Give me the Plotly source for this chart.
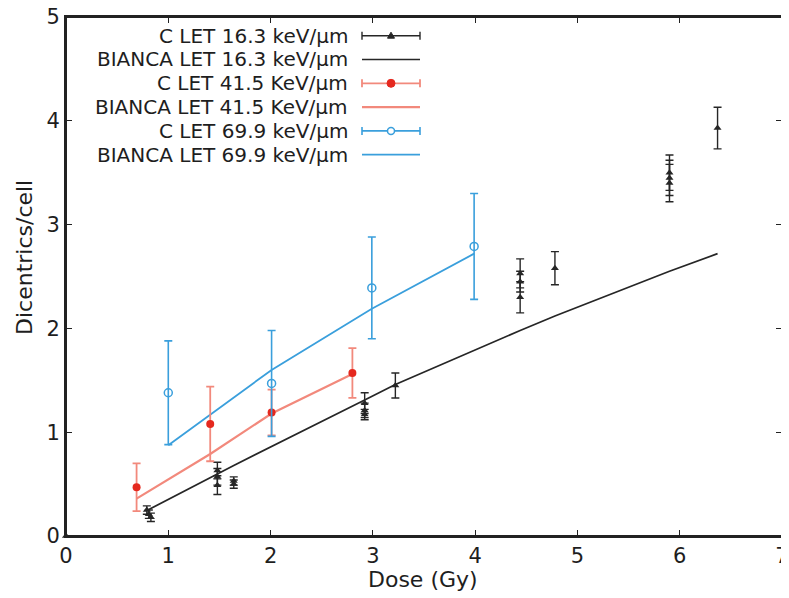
import plotly.graph_objects as go

# ---- data ----
c16_x = [0.0, 0.79, 0.81, 0.83, 1.48, 1.48, 1.48, 1.64, 1.64, 2.92, 2.92, 2.92, 3.22,
         4.44, 4.44, 4.44, 4.78, 5.9, 5.9, 5.9, 6.37]
c16_y = [0.0, 0.25, 0.21, 0.18, 0.63, 0.57, 0.49, 0.53, 0.50, 1.28, 1.21, 1.17, 1.45,
         2.53, 2.45, 2.30, 2.58, 3.50, 3.45, 3.40, 3.93]
c16_e = [0.0, 0.04, 0.04, 0.04, 0.08, 0.08, 0.09, 0.04, 0.04, 0.10, 0.07, 0.05, 0.12,
         0.14, 0.10, 0.15, 0.16, 0.17, 0.17, 0.18, 0.20]

b16_x = [0.80, 1.48, 1.64, 2.92, 3.22, 4.44, 4.78, 5.9, 6.37]
b16_y = [0.25, 0.60, 0.68, 1.31, 1.46, 1.98, 2.12, 2.55, 2.72]

c41_x = [0.69, 1.41, 2.01, 2.80]
c41_y = [0.47, 1.08, 1.19, 1.57]
c41_e = [0.23, 0.36, 0.22, 0.24]

b41_x = [0.69, 1.41, 2.01, 2.80]
b41_y = [0.36, 0.79, 1.18, 1.56]

c70_x = [1.00, 2.01, 2.99, 3.99]
c70_y = [1.38, 1.47, 2.39, 2.79]
c70_e = [0.50, 0.51, 0.49, 0.51]

b70_x = [1.00, 2.01, 2.99, 3.99]
b70_y = [0.875, 1.60, 2.19, 2.72]

legend_labels = ["C LET 16.3 keV/µm", "BIANCA LET 16.3 keV/µm",
                 "C LET 41.5 KeV/µm", "BIANCA LET 41.5 KeV/µm",
                 "C LET 69.9 keV/µm", "BIANCA LET 69.9 keV/µm"]

x_ticks = [0, 1, 2, 3, 4, 5, 6, 7]
y_ticks = [0, 1, 2, 3, 4, 5]

# ---- styles ----
BLACK = "#262626"
RED = "#e5281e"
RED_L = "#f2897c"
BLUE = "#3a9fdc"
FONT = "DejaVu Sans"
TXT = "#1e1e1e"

fig = go.Figure()

fig.add_trace(go.Scatter(x=b16_x, y=b16_y, mode="lines",
                         line=dict(color=BLACK, width=1.7), showlegend=False))
fig.add_trace(go.Scatter(x=b41_x, y=b41_y, mode="lines",
                         line=dict(color=RED_L, width=2.2), showlegend=False))
fig.add_trace(go.Scatter(x=b70_x, y=b70_y, mode="lines",
                         line=dict(color=BLUE, width=1.8), showlegend=False))

fig.add_trace(go.Scatter(x=c16_x, y=c16_y, mode="markers",
                         marker=dict(symbol="triangle-up", size=7, color=BLACK),
                         error_y=dict(type="data", array=c16_e, color=BLACK,
                                      thickness=1.4, width=4),
                         showlegend=False, cliponaxis=False))
fig.add_trace(go.Scatter(x=c41_x, y=c41_y, mode="markers",
                         marker=dict(symbol="circle", size=8, color=RED),
                         error_y=dict(type="data", array=c41_e, color=RED_L,
                                      thickness=1.8, width=4),
                         showlegend=False))
fig.add_trace(go.Scatter(x=c70_x, y=c70_y, mode="markers",
                         marker=dict(symbol="circle-open", size=8, color=BLUE,
                                     line=dict(width=1.5)),
                         error_y=dict(type="data", array=c70_e, color=BLUE,
                                      thickness=1.6, width=4),
                         showlegend=False))

# ---- geometry (screen pixels; page body has an 8px margin) ----
OFF = 8
FIG_W, FIG_H = 789 - OFF, 598 - OFF
L, R, T, B = 66, 782, 17, 536          # plot area in screen pixels
W, H = R - L, B - T
def px(xp):
    return (xp - L) / W
def py(yp):
    return (B - yp) / H

row_y = [35.7, 59.5, 83.3, 107.1, 130.9, 154.7]
styles = [(BLACK, 1.4, "tri"), (BLACK, 1.7, None), (RED_L, 1.8, "dot"),
          (RED_L, 2.2, None), (BLUE, 1.6, "ocirc"), (BLUE, 1.8, None)]
x_text, x0, x1, xm = 350, 362, 420, 391
shapes = []
annotations = []
for lab, yy, (col, lw, mk) in zip(legend_labels, row_y, styles):
    annotations.append(dict(text=lab, xref="paper", yref="paper", x=px(x_text), y=py(yy),
                            xanchor="right", yanchor="middle", showarrow=False,
                            font=dict(family=FONT, size=20, color=TXT)))
    shapes.append(dict(type="line", xref="paper", yref="paper", x0=px(x0), x1=px(x1),
                       y0=py(yy), y1=py(yy), line=dict(color=col, width=lw)))
    if mk is not None:
        for xc in (x0, x1):
            shapes.append(dict(type="line", xref="paper", yref="paper", x0=px(xc), x1=px(xc),
                               y0=py(yy - 4), y1=py(yy + 4), line=dict(color=col, width=lw)))
    if mk == "tri":
        path = "M {} {} L {} {} L {} {} Z".format(px(xm - 3.5), py(yy + 2.5), px(xm + 3.5), py(yy + 2.5),
                                                  px(xm), py(yy - 3.5))
        shapes.append(dict(type="path", xref="paper", yref="paper", path=path,
                           fillcolor=BLACK, line=dict(color=BLACK, width=1)))
    elif mk == "dot":
        shapes.append(dict(type="circle", xref="paper", yref="paper", x0=px(xm - 4), x1=px(xm + 4),
                           y0=py(yy + 4), y1=py(yy - 4), fillcolor=RED, line=dict(color=RED, width=1)))
    elif mk == "ocirc":
        shapes.append(dict(type="circle", xref="paper", yref="paper", x0=px(xm - 3.5), x1=px(xm + 3.5),
                           y0=py(yy + 3.5), y1=py(yy - 3.5), fillcolor="white",
                           line=dict(color=BLUE, width=1.5)))

# plot frame
shapes.append(dict(type="rect", xref="paper", yref="paper", x0=0, x1=1, y0=0, y1=1,
                   line=dict(color="#222222", width=2), layer="above"))

# axis titles
annotations.append(dict(text="Dose (Gy)", xref="paper", yref="paper", x=px(423), y=py(580),
                        xanchor="center", yanchor="middle", showarrow=False,
                        font=dict(family=FONT, size=22, color=TXT)))
annotations.append(dict(text="Dicentrics/cell", xref="paper", yref="paper", x=px(24), y=py(258),
                        xanchor="center", yanchor="middle", showarrow=False, textangle=-90,
                        font=dict(family=FONT, size=22, color=TXT)))

axis_common = dict(showline=True, linecolor="#222222", linewidth=2, mirror="allticks",
                   ticks="inside", ticklen=6, tickwidth=1.2, tickcolor="#222222",
                   showgrid=False, zeroline=False, automargin=False,
                   ticklabeloverflow="allow",
                   tickfont=dict(family=FONT, size=21, color=TXT))

fig.update_layout(
    width=FIG_W, height=FIG_H,
    margin=dict(l=L - OFF, r=FIG_W - (R - OFF), t=T - OFF, b=FIG_H - (B - OFF)),
    paper_bgcolor="white", plot_bgcolor="white",
    xaxis=dict(range=[0, 7], tickvals=x_ticks, **axis_common),
    yaxis=dict(range=[0, 5], tickvals=y_ticks, **axis_common),
    shapes=shapes, annotations=annotations,
    showlegend=False,
)

fig.write_html("out.html")
